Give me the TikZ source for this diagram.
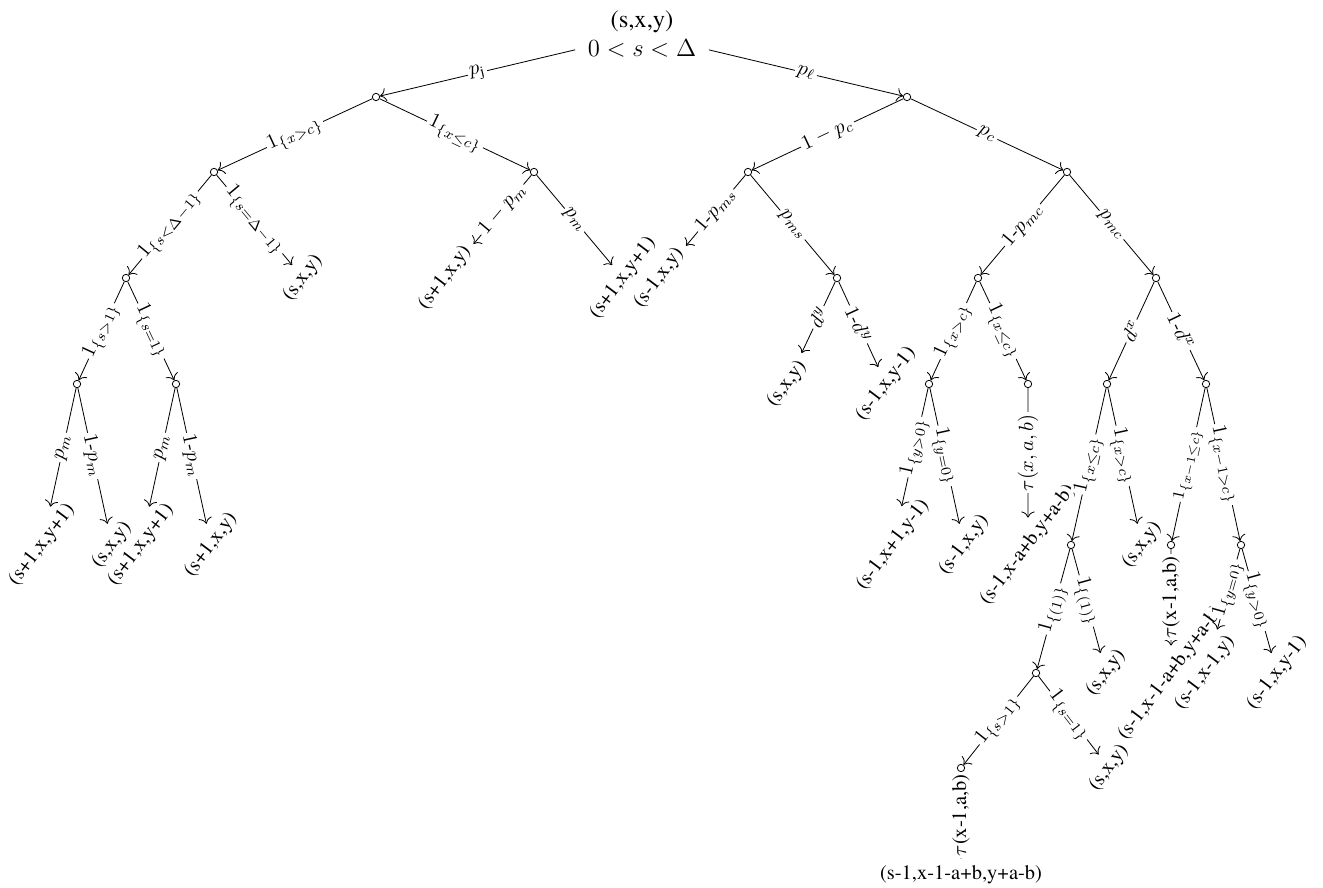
\documentclass[tikz,border=0pt]{standalone}
\usepackage{fontspec}
\setmainfont{TeX Gyre Termes}
\usetikzlibrary{arrows.meta}
\begin{document}
\begin{tikzpicture}[x=0.4878pt,y=-0.4878pt,
  st/.style={circle,draw,inner sep=0pt,minimum size=3.6pt},
  leaf/.style={rotate=53},
  lab/.style={midway,sloped,fill=white,inner sep=1pt},
  vlab/.style={midway,rotate=90,fill=white,inner sep=1pt},
  ed/.style={-{To[length=3pt,width=6.5pt]}}]
\useasboundingbox (0,0) rectangle (1323,888);
% root
\node[align=center,font=\large,inner xsep=6pt] (r) at (642,34) {(s,x,y)\\$0<s<\Delta$};
% level 1
\node[st] (A) at (376,97) {};
\node[st] (B) at (907,97) {};
% level 2
\node[st] (A1) at (214,172) {};
\node[st] (A2) at (534,172) {};
\node[st] (B1) at (748,172) {};
\node[st] (B2) at (1067,172) {};
% level 3
\node[st] (A11) at (126,278) {};
\node[leaf] (LA1) at (303,278) {(s,x,y)};
\node[leaf] (LA2a) at (445,278) {(s+1,x,y)};
\node[leaf] (LA2b) at (623,278) {(s+1,x,y+1)};
\node[leaf] (LB1a) at (659,278) {(s-1,x,y)};
\node[st] (B12) at (837,278) {};
\node[st] (B21) at (978,278) {};
\node[st] (B22) at (1156,278) {};
% level 4
\node[st] (A111) at (77,384) {};
\node[st] (A112) at (176,384) {};
\node[leaf] (LB12a) at (787,384) {(s,x,y)};
\node[leaf] (LB12b) at (886,384) {(s-1,x,y-1)};
\node[st] (B211) at (929,384) {};
\node[st] (B212) at (1028,384) {};
\node[st] (B221) at (1107,384) {};
\node[st] (B222) at (1206,384) {};
% level 5
\node[leaf] (L1) at (42,545) {(s+1,x,y+1)};
\node[leaf] (L2) at (112,545) {(s,x,y)};
\node[leaf] (L3) at (141,545) {(s+1,x,y+1)};
\node[leaf] (L4) at (211,545) {(s+1,x,y)};
\node[leaf] (L5) at (893,545) {(s-1,x+1,y-1)};
\node[leaf] (L6) at (964,545) {(s-1,x,y)};
\node[leaf] (L7) at (1028,545) {(s-1,x-a+b,y+a-b)};
\node[st] (B2211) at (1071,545) {};
\node[leaf] (L8) at (1142,545) {(s,x,y)};
\node[st] (B2221) at (1171,545) {};
\node[st] (B2222) at (1241,545) {};
% level 6
\node[st] (B22111) at (1036,673) {};
\node[leaf] (L9) at (1106,673) {(s,x,y)};
\node[leaf] (L10) at (1171,673) {(s-1,x-1-a+b,y+a-b)};
\node[leaf] (L11) at (1205,673) {(s-1,x-1,y)};
\node[leaf] (L12) at (1277,673) {(s-1,x,y-1)};
% level 7
\node[st] (B221111) at (961,768) {};
\node[leaf] (L13) at (1109,768) {(s,x,y)};
% level 8
\node (L14) at (961,875) {(s-1,x-1-a+b,y+a-b)};
% edges
\draw[ed] (r) -- node[lab]{$p_{\mathrm{j}}$} (A);
\draw[ed] (r) -- node[lab]{$p_\ell$} (B);
\draw[ed] (A) -- node[lab]{$1_{\{x>c\}}$} (A1);
\draw[ed] (A) -- node[lab]{$1_{\{x\leq c\}}$} (A2);
\draw[ed] (B) -- node[lab]{$1-p_c$} (B1);
\draw[ed] (B) -- node[lab]{$p_c$} (B2);
\draw[ed] (A1) -- node[lab]{$1_{\{s<\Delta-1\}}$} (A11);
\draw[ed] (A1) -- node[lab]{$1_{\{s=\Delta-1\}}$} (LA1);
\draw[ed] (A2) -- node[lab]{$1-p_m$} (LA2a);
\draw[ed] (A2) -- node[lab]{$p_m$} (LA2b);
\draw[ed] (B1) -- node[lab]{$1$-$p_{ms}$} (LB1a);
\draw[ed] (B1) -- node[lab]{$p_{ms}$} (B12);
\draw[ed] (B2) -- node[lab]{$1$-$p_{mc}$} (B21);
\draw[ed] (B2) -- node[lab]{$p_{mc}$} (B22);
\draw[ed] (A11) -- node[lab]{$1_{\{s>1\}}$} (A111);
\draw[ed] (A11) -- node[lab]{$1_{\{s=1\}}$} (A112);
\draw[ed] (B12) -- node[lab]{$d^y$} (LB12a);
\draw[ed] (B12) -- node[lab]{$1$-$d^y$} (LB12b);
\draw[ed] (B21) -- node[lab]{$1_{\{x>c\}}$} (B211);
\draw[ed] (B21) -- node[lab]{$1_{\{x\leq c\}}$} (B212);
\draw[ed] (B22) -- node[lab]{$d^x$} (B221);
\draw[ed] (B22) -- node[lab]{$1$-$d^x$} (B222);
\draw[ed] (A111) -- node[lab]{$p_m$} (L1);
\draw[ed] (A111) -- node[lab]{$1$-$p_m$} (L2);
\draw[ed] (A112) -- node[lab]{$p_m$} (L3);
\draw[ed] (A112) -- node[lab]{$1$-$p_m$} (L4);
\draw[ed] (B211) -- node[lab]{$1_{\{y>0\}}$} (L5);
\draw[ed] (B211) -- node[lab]{$1_{\{y=0\}}$} (L6);
\draw[ed] (B212) -- node[vlab]{$\tau(x,a,b)$} (L7);
\draw[ed] (B221) -- node[lab]{$1_{\{x\leq c\}}$} (B2211);
\draw[ed] (B221) -- node[lab]{$1_{\{x>c\}}$} (L8);
\draw[ed] (B222) -- node[lab,font=\footnotesize]{$1_{\{x-1\leq c\}}$} (B2221);
\draw[ed] (B222) -- node[lab]{$1_{\{x-1>c\}}$} (B2222);
\draw[ed] (B2211) -- node[lab]{$1_{\{(1)\}}$} (B22111);
\draw[ed] (B2211) -- node[lab]{$1_{\{(1)\}}$} (L9);
\draw[ed] (B2221) -- node[vlab]{$\tau$(x-1,a,b)} (L10);
\draw[ed] (B2222) -- node[lab]{$1_{\{y=0\}}$} (L11);
\draw[ed] (B2222) -- node[lab]{$1_{\{y>0\}}$} (L12);
\draw[ed] (B22111) -- node[lab]{$1_{\{s>1\}}$} (B221111);
\draw[ed] (B22111) -- node[lab]{$1_{\{s=1\}}$} (L13);
\draw[ed] (B221111) -- node[vlab]{$\tau$(x-1,a,b)} (L14);
\end{tikzpicture}
\end{document}
